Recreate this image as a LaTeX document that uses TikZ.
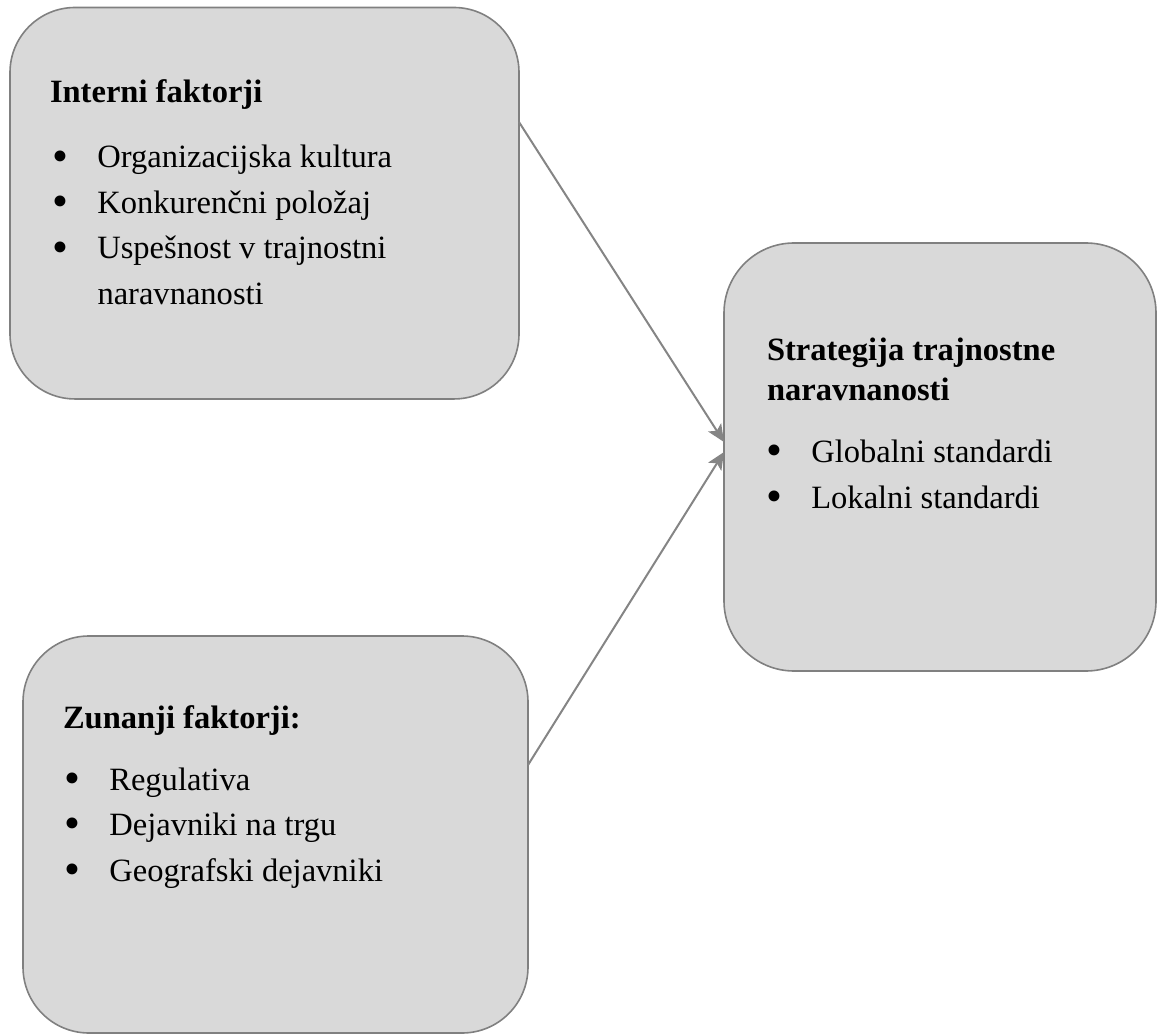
\documentclass[tikz,border=0pt]{standalone}
\usepackage{fontspec}
\setmainfont{Liberation Serif}
\usetikzlibrary{arrows.meta}
\definecolor{panelfill}{HTML}{D9D9D9}
\definecolor{panelline}{HTML}{808080}
\definecolor{linkline}{HTML}{858585}
\tikzset{
  panel/.style={draw=panelline, fill=panelfill, line width=1.2pt,
    rectangle, inner sep=0pt, outer sep=0pt, anchor=north west},
  txt/.style={anchor=base west, inner sep=0pt, outer sep=0pt,
    font=\fontsize{24.4pt}{30pt}\selectfont},
  head/.style={txt, font=\fontsize{24.4pt}{30pt}\selectfont\bfseries},
  link/.style={draw=linkline, line width=1.5pt,
    -{Stealth[length=13pt, width=11.5pt, inset=3pt]}}
}
% one bullet item: a slightly enlarged bullet followed by its text
\newcommand{\bitem}[1]{\makebox[34pt][l]{\raisebox{-0.1em}{\scalebox{1.4}{\textbullet}}}#1}
\begin{document}
\begin{tikzpicture}[x=0.75pt, y=-0.75pt]
  \useasboundingbox (0,0) rectangle (1157,1034);

  % the three panels
  \node[panel, rounded corners=48.75pt, minimum width=381.75pt, minimum height=293.6pt]
    (intern) at (10,7.5) {};
  \node[panel, rounded corners=52.5pt, minimum width=324pt, minimum height=321pt]
    (strat) at (724,243) {};
  \node[panel, rounded corners=49.5pt, minimum width=378.75pt, minimum height=297.75pt]
    (extern) at (23,636) {};

  % internal factors
  \node[head] (internT) at (50,103) {Interni faktorji};
  \node[txt] (intern1) at (52,168) {\bitem{Organizacijska kultura}};
  \node[txt] (intern2) at (52,213.5) {\bitem{Konkurenčni položaj}};
  \node[txt] (intern3) at (52,259) {\bitem{Uspešnost v trajnostni}};
  \node[txt] (intern3b) at (97.5,304.5) {naravnanosti};

  % strategy
  \node[head] (stratT1) at (767,360) {Strategija trajnostne};
  \node[head] (stratT2) at (767,400) {naravnanosti};
  \node[txt] (strat1) at (766,462) {\bitem{Globalni standardi}};
  \node[txt] (strat2) at (766,508) {\bitem{Lokalni standardi}};

  % external factors
  \node[head] (externT) at (63,728) {Zunanji faktorji:};
  \node[txt] (extern1) at (64,790) {\bitem{Regulativa}};
  \node[txt] (extern2) at (64,835.5) {\bitem{Dejavniki na trgu}};
  \node[txt] (extern3) at (64,881) {\bitem{Geografski dejavniki}};

  % connectors into the strategy panel
  \draw[link] ([yshift=-85.9pt]intern.north east) -- ([yshift=-149.25pt]strat.north west);
  \draw[link] ([yshift=-96.75pt]extern.north east) -- ([yshift=-156.75pt]strat.north west);
\end{tikzpicture}
\end{document}
